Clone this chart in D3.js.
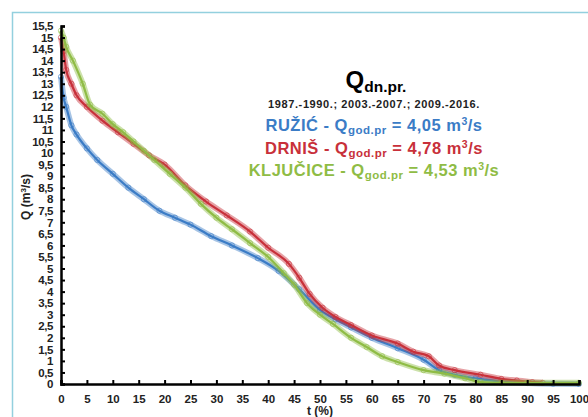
<!DOCTYPE html>
<html>
<head>
<meta charset="utf-8">
<script src="https://cdn.jsdelivr.net/npm/d3@7"></script>
<style>
  body { margin: 0; background: #fff; }
  text { font-family: "Liberation Sans", Arial, sans-serif; font-weight: bold; }
</style>
</head>
<body>
<div id="chart"></div>
<script>
  const width = 588, height = 417;

  // duration curves: t (%) and Q (m3/s)
  const ruzicT = [0, 0.5, 1, 2, 3, 5, 7, 10, 13, 16, 19, 22, 25, 29, 33, 38, 42, 46, 50, 53, 56, 60, 65, 70, 73, 76, 80, 85, 90, 95, 100];
  const ruzicQ = [13.3, 12.4, 12.0, 11.2, 10.8, 10.2, 9.7, 9.1, 8.5, 8.0, 7.5, 7.2, 6.9, 6.4, 6.0, 5.45, 4.9, 4.1, 3.2, 2.8, 2.45, 2.0, 1.55, 1.05, 0.6, 0.4, 0.25, 0.1, 0.04, 0.01, 0];
  const drnisT = [0, 0.5, 1, 2, 3, 5, 8, 11, 14, 17, 20, 24, 28, 32, 36.5, 40, 44, 46, 48, 50.5, 53, 56, 60, 65, 68, 71, 73, 76, 81, 85, 88, 91, 93];
  const drnisQ = [15.0, 14.4, 13.6, 13.0, 12.5, 12.0, 11.4, 10.9, 10.4, 9.9, 9.5, 8.6, 7.9, 7.3, 6.6, 5.9, 5.2, 4.6, 3.9, 3.3, 2.9, 2.55, 2.1, 1.75, 1.4, 1.2, 0.8, 0.6, 0.4, 0.22, 0.15, 0.08, 0.05];
  const kljucT = [0, 0.5, 1, 2.3, 4.2, 5.6, 8, 10, 12, 14, 16, 18, 21, 24, 27, 30, 33, 36.5, 40, 43, 45, 47.5, 50, 52.5, 56, 59, 62, 65, 70, 74, 78, 81, 85, 90, 100];
  const kljucQ = [15.3, 15.0, 14.6, 14.0, 13.0, 12.1, 11.7, 11.25, 10.9, 10.5, 10.1, 9.7, 9.1, 8.5, 7.8, 7.2, 6.7, 6.1, 5.5, 4.8, 4.3, 3.5, 3.0, 2.6, 2.0, 1.6, 1.2, 0.95, 0.6, 0.45, 0.25, 0.08, 0.05, 0.05, 0.05];

  const xTicks = d3.range(0, 101, 5);
  const yTicks = d3.range(0, 15.51, 0.5);

  const series = [
    { t: ruzicT, q: ruzicQ, color: '#3b7cc6' },
    { t: drnisT, q: drnisQ, color: '#c8303a' },
    { t: kljucT, q: kljucQ, color: '#8fbc45' }
  ];

  const svg = d3.select('#chart').append('svg')
    .attr('width', width)
    .attr('height', height);

  // light frame around the figure
  svg.append('rect')
    .attr('x', 12.5).attr('y', 12.5)
    .attr('width', 600).attr('height', 420)
    .attr('fill', 'none')
    .attr('stroke', '#93d0de')
    .attr('stroke-width', 1.5);

  const x = d3.scaleLinear().domain([0, 100]).range([61, 579]);
  const y = d3.scaleLinear().domain([0, 15.5]).range([384, 26]);
  const fmt = d => String(d).replace('.', ',');

  const line = d3.line().x(d => x(d[0])).y(d => y(d[1])).curve(d3.curveMonotoneX);

  series.forEach(s => {
    const pts = s.t.map((t, i) => [t, s.q[i]]);
    const g = svg.append('g');
    g.append('path')
      .attr('d', line(pts))
      .attr('fill', 'none')
      .attr('stroke', s.color)
      .attr('stroke-opacity', 0.45)
      .attr('stroke-width', 6)
      .attr('stroke-linejoin', 'round');
    g.append('path')
      .attr('d', line(pts))
      .attr('fill', 'none')
      .attr('stroke', s.color)
      .attr('stroke-width', 2.2);
    g.selectAll('circle')
      .data(pts)
      .join('circle')
      .attr('cx', d => x(d[0]))
      .attr('cy', d => y(d[1]))
      .attr('r', 2.6)
      .attr('fill', 'none')
      .attr('stroke', s.color)
      .attr('stroke-opacity', 0.6)
      .attr('stroke-width', 1);
  });

  // axes
  const xAxis = svg.append('g')
    .attr('transform', 'translate(0,384)')
    .call(d3.axisBottom(x).tickValues(xTicks).tickSize(-4).tickPadding(10).tickFormat(d => d));
  const yAxis = svg.append('g')
    .attr('transform', 'translate(61,0)')
    .call(d3.axisLeft(y).tickValues(yTicks).tickSize(-4).tickPadding(8).tickFormat(fmt));

  [xAxis, yAxis].forEach(a => {
    a.select('.domain').attr('stroke', '#000').attr('stroke-width', 2.5);
    a.selectAll('.tick line').attr('stroke', '#000').attr('stroke-width', 2);
    a.selectAll('.tick text').attr('fill', '#222').attr('font-size', 11.5).attr('font-weight', 'bold');
  });
  yAxis.selectAll('.tick text').attr('letter-spacing', -0.4);
  xAxis.selectAll('.tick text').attr('dy', '0.75em');

  svg.append('text')
    .attr('transform', 'translate(30,197) rotate(-90)')
    .attr('text-anchor', 'middle')
    .attr('font-size', 12)
    .attr('fill', '#222')
    .html('Q (m<tspan dy="-4" font-size="8">3</tspan><tspan dy="4">/s)</tspan>');

  svg.append('text')
    .attr('x', 320).attr('y', 415)
    .attr('text-anchor', 'middle')
    .attr('font-size', 12)
    .attr('fill', '#222')
    .text('t (%)');

  // title block
  svg.append('text')
    .attr('x', 376).attr('y', 88)
    .attr('text-anchor', 'middle')
    .attr('fill', '#000')
    .html('<tspan font-size="24">Q</tspan><tspan font-size="15.5" dy="4">dn.pr.</tspan>');

  svg.append('text')
    .attr('x', 374).attr('y', 108)
    .attr('text-anchor', 'middle')
    .attr('font-size', 11)
    .attr('letter-spacing', 0.6)
    .attr('fill', '#222')
    .text('1987.-1990.; 2003.-2007.; 2009.-2016.');

  const legendLines = [
    { name: 'RUŽIĆ', val: '4,05', color: '#3b7cc6', yy: 131 },
    { name: 'DRNIŠ', val: '4,78', color: '#c8303a', yy: 154 },
    { name: 'KLJUČICE', val: '4,53', color: '#8fbc45', yy: 176 }
  ];
  legendLines.forEach(l => {
    svg.append('text')
      .attr('x', 374).attr('y', l.yy)
      .attr('text-anchor', 'middle')
      .attr('font-size', 16.5)
      .attr('letter-spacing', 0.5)
      .attr('fill', l.color)
      .html(`${l.name} - Q<tspan font-size="11.5" dy="3">god.pr</tspan><tspan dy="-3"> = ${l.val} m</tspan><tspan font-size="10.5" dy="-6">3</tspan><tspan dy="6">/s</tspan>`);
  });
</script>
</body>
</html>
